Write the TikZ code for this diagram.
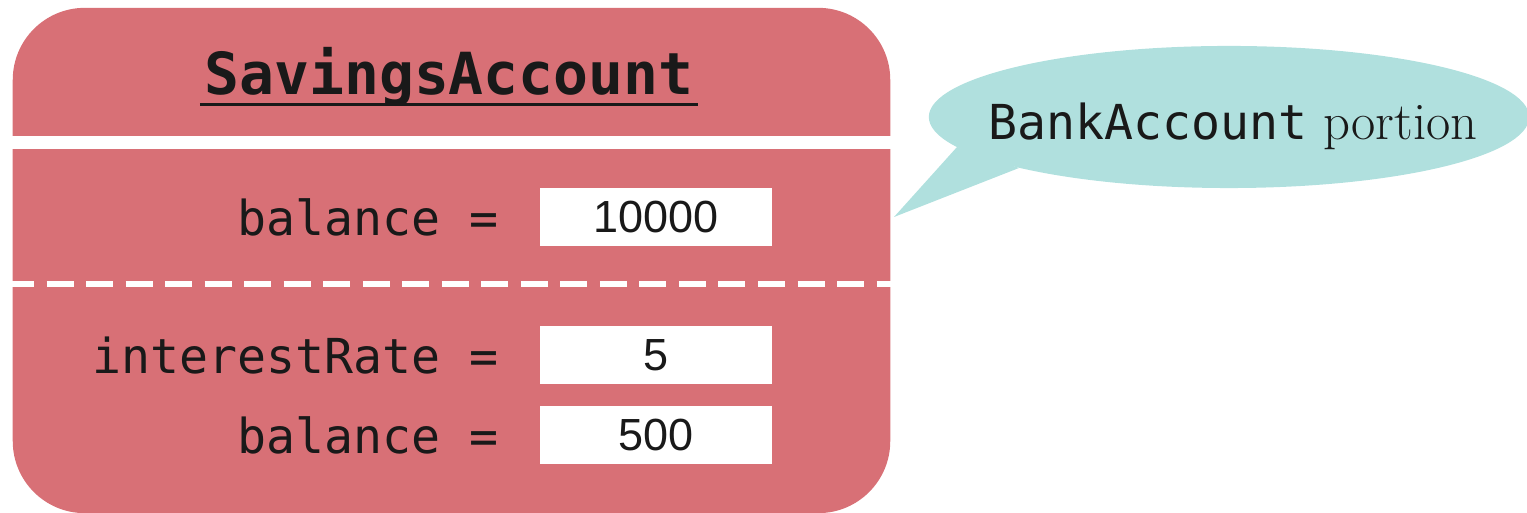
\documentclass[tikz,border=0pt]{standalone}
\usepackage{fontspec}
\setmonofont{DejaVu Sans Mono}
\setsansfont{Liberation Sans}
\usepackage{tikz}
\usetikzlibrary{positioning}
\definecolor{objred}{RGB}{216,112,118}
\definecolor{noteteal}{RGB}{176,224,222}
\definecolor{inktext}{RGB}{25,25,25}

\begin{document}
\begin{tikzpicture}[x=0.01cm,y=-0.01cm,
  obj box/.style={fill=objred,rounded corners=0.72cm,minimum width=8.77cm,minimum height=5.05cm,inner sep=0pt},
  title node/.style={inner xsep=0.04cm,inner ysep=0pt,text=inktext,font=\ttfamily\bfseries\fontsize{16.5}{20}\selectfont},
  field node/.style={inner sep=0pt,text=inktext,font=\ttfamily\fontsize{13.7}{16}\selectfont},
  value node/.style={fill=white,minimum width=2.32cm,minimum height=0.58cm,inner sep=0pt,text=inktext,font=\sffamily\fontsize{12.8}{16}\selectfont},
  note text/.style={inner sep=0pt,text=inktext,font=\fontsize{15}{18}\selectfont}]

  \useasboundingbox (0,0) rectangle (1527,513);

  \node[obj box] (obj) at (451.5,260.5) {};
  \draw[white,line width=0.13cm] ([yshift=-1.35cm]obj.north west) -- ([yshift=-1.35cm]obj.north east);
  \draw[white,line width=0.06cm,dash pattern=on 0.27cm off 0.125cm,dash phase=0.05cm]
    ([yshift=-2.77cm]obj.north west) -- ([yshift=-2.77cm]obj.north east);

  \node[title node,anchor=base] (title) at (449,95) {SavingsAccount};
  \draw[inktext,line width=0.03cm] ([yshift=-0.1cm]title.base west) -- ([yshift=-0.1cm]title.base east);

  \node[value node] (bal) at (656,217) {10000};
  \node[value node] (rate) [below=0.79cm of bal] {5};
  \node[value node] (sbal) [below=0.2cm of rate] {500};

  \node[field node] (balname) [left=0.4cm of bal] {balance =};
  \node[field node] (ratename) [left=0.4cm of rate] {interestRate =};
  \node[field node] (sbalname) [left=0.4cm of sbal] {balance =};

  % callout
  \coordinate (notec) at (1229,117);
  \coordinate (tip) at (894,217);
  \coordinate (tailA) at (957,147);
  \coordinate (tailB) at (1019,168);
  \fill[noteteal] (notec) ellipse [x radius=3cm,y radius=0.71cm];
  \fill[noteteal] (tip) -- (tailA) -- (tailB) -- cycle;
  \node[note text,anchor=base] (note) at (1233,140)
    {{\ttfamily\fontsize{13.7}{16}\selectfont BankAccount} portion};

\end{tikzpicture}
\end{document}
